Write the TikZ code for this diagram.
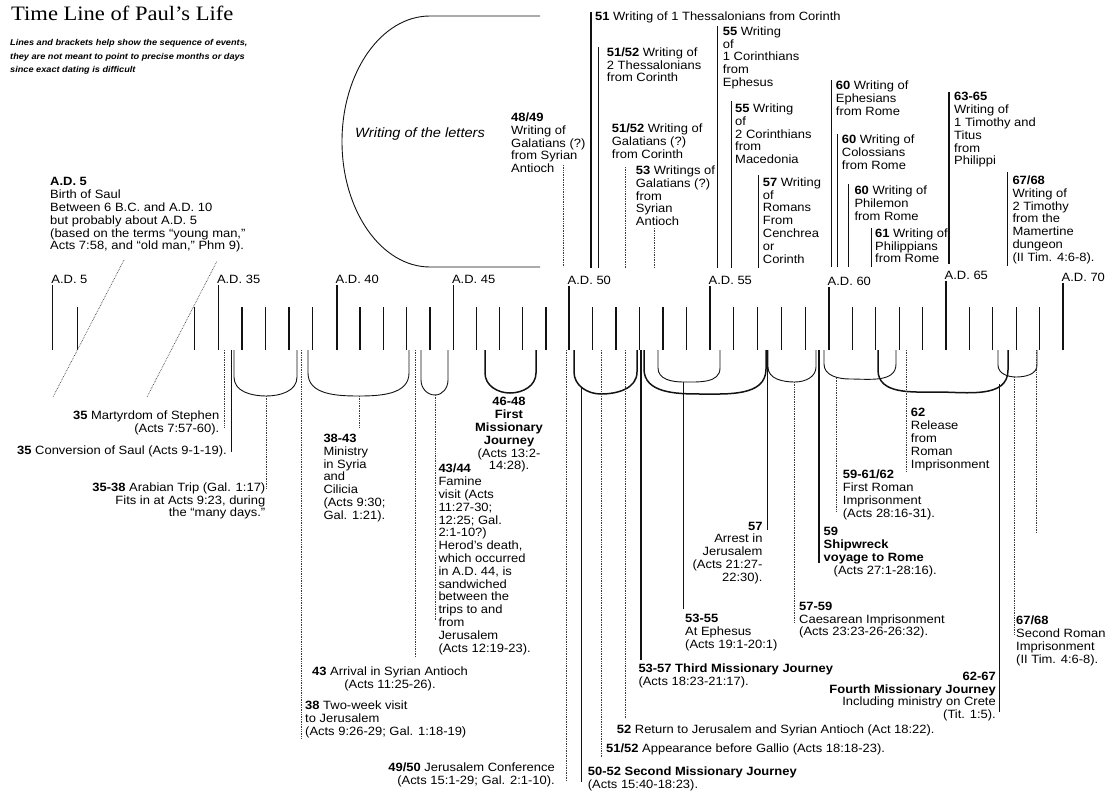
\documentclass[tikz,border=0pt]{standalone}
\usepackage{fontspec}
\setmainfont[FakeStretch=1.08]{Liberation Sans}
\newfontfamily\titlefamily[FakeStretch=1.1]{Liberation Serif}
\usepackage{tikz}
\usepackage{xcolor}
\definecolor{inkBlack}{RGB}{18,18,18}
\definecolor{inkGrey}{RGB}{60,60,60}
\newcommand{\evtfont}{\fontsize{12}{12.8}\selectfont}
\tikzset{
    titletext/.style={
        anchor=base west,
        inner sep=0pt,
        font=\titlefamily\fontsize{20.5}{24}\selectfont
    },
    notetext/.style={
        anchor=north west,
        align=left,
        inner sep=0pt,
        font=\fontsize{8.5}{13.3}\selectfont\bfseries\itshape
    },
    evtleft/.style={
        anchor=north west,
        align=left,
        inner sep=0pt,
        font=\evtfont
    },
    evtright/.style={
        anchor=north east,
        align=right,
        inner sep=0pt,
        font=\evtfont
    },
    evtcenter/.style={
        anchor=north,
        align=center,
        inner sep=0pt,
        font=\evtfont
    },
    yearlabel/.style={anchor=base west, inner sep=0pt, font=\evtfont},
    tickline/.style={draw=inkBlack, line width=1.1pt},
    leadline/.style={draw=inkBlack, line width=0.9pt},
    heavyline/.style={draw=inkBlack, line width=1.5pt},
    faintline/.style={draw=inkGrey, line width=0.7pt, densely dotted},
    bracketline/.style={draw=inkBlack, line width=0.9pt},
    heavybracket/.style={draw=inkBlack, line width=1.5pt}
}

\begin{document}
\begin{tikzpicture}[x=1pt, y=-1pt]
    \useasboundingbox (0,0) rectangle (1120,803);

    \node[titletext] (title) at (11,20.5) {Time Line of Paul’s Life};
    \node[notetext] (note) at (10,39.5) {Lines and brackets help show the sequence of events,\\they are not meant to point to precise months or days\\since exact dating is difficult};

    \node[evtleft] (birth) at (50,177.4) {\textbf{A.D. 5}\\Birth of Saul\\Between 6 B.C. and A.D. 10\\but probably about A.D. 5\\(based on the terms “young man,”\\Acts 7:58, and “old man,” Phm 9).};

    % time line
    \foreach \x in {77.3,194.3,242,265.5,289,312.5,360,383.3,406.7,430,476.5,499.7,522.9,546,592.5,616,639.5,663,686.5,733.8,757.6,781.4,805.2,852.4,875.8,899.2,922.6,969.4,992.8,1016.2,1039.6}
        \draw[tickline] (\x,307) -- (\x,350);
    \foreach \x/\yr/\yb in {52.7/5/283.5,218.3/35/283.5,337/40/283,453.3/45/283,569/50/284.5,710/55/284.5,829/60/285.5,946/65/279.5,1063/70/281.5} {
        \draw[tickline] (\x,\yb+1.5) -- (\x,350);
        \node[yearlabel] (yr\yr) at (\x-1.5,\yb) {A.D. \yr};
    }
    \draw[faintline] (124,260) -- (53,397);
    \draw[faintline] (216.7,261.7) -- (147,397);

    % writing of the letters
    \draw[bracketline] (540,16) -- (430,16) .. controls (381.4,16) and (342,72.2) .. (342,141.5) .. controls (342,210.8) and (381.4,267) .. (430,267) -- (540,267);
    \node[font=\fontsize{13.5}{15}\selectfont\itshape, inner sep=0pt] (letters) at (420,134) {Writing of the letters};

    \node[evtleft] (gal4849) at (511,112.7) {\textbf{48/49}\\Writing of\\Galatians (?)\\from Syrian\\Antioch};
    \node[evtleft] (thes1) at (595,11.7) {\textbf{51} Writing of 1 Thessalonians from Corinth};
    \node[evtleft] (thes2) at (606.7,47.4) {\textbf{51/52} Writing of\\2 Thessalonians\\from Corinth};
    \node[evtleft] (gal5152) at (611.7,123.7) {\textbf{51/52} Writing of\\Galatians (?)\\from Corinth};
    \node[evtleft] (gal53) at (635.7,165.7) {\textbf{53} Writings of\\Galatians (?)\\from\\Syrian\\Antioch};
    \node[evtleft] (cor1) at (722.7,26.4) {\textbf{55} Writing\\of\\1 Corinthians\\from\\Ephesus};
    \node[evtleft] (cor2) at (735,103.7) {\textbf{55} Writing\\of\\2 Corinthians\\from\\Macedonia};
    \node[evtleft] (rom) at (762.7,177.4) {\textbf{57} Writing\\of\\Romans\\From\\Cenchrea\\or\\Corinth};
    \node[evtleft] (eph) at (835.7,80.7) {\textbf{60} Writing of\\Ephesians\\from Rome};
    \node[evtleft] (col) at (841.7,134.7) {\textbf{60} Writing of\\Colossians\\from Rome};
    \node[evtleft] (phm) at (854.3,185.7) {\textbf{60} Writing of\\Philemon\\from Rome};
    \node[evtleft] (php) at (875,228.4) {\textbf{61} Writing of\\Philippians\\from Rome};
    \node[evtleft] (tim1) at (954,92.4) {\textbf{63-65}\\Writing of\\1 Timothy and\\Titus\\from\\Philippi};
    \node[evtleft] (tim2) at (1012.3,175.7) {\textbf{67/68}\\Writing of\\2 Timothy\\from the\\Mamertine\\dungeon\\(II Tim. 4:6-8).};

    \draw[faintline] (563,165) -- (563,267);
    \draw[heavyline] (591,12) -- (591,268);
    \draw[leadline] (598.3,47) -- (598.3,268);
    \draw[faintline] (625,167) -- (625,268);
    \draw[faintline] (654,228) -- (654,268);
    \draw[leadline] (717.7,26) -- (717.7,268);
    \draw[leadline] (731,101) -- (731,268);
    \draw[leadline] (758.3,175) -- (758.3,268);
    \draw[leadline] (831.7,80) -- (831.7,267);
    \draw[leadline] (837.7,134) -- (837.7,267);
    \draw[leadline] (848.3,184) -- (848.3,267);
    \draw[leadline] (871,228) -- (871,267);
    \draw[heavyline] (949,92) -- (949,264);
    \draw[leadline] (1007.7,172) -- (1007.7,266);

    % brackets under the line
    \foreach \xa/\xm/\xb/\yb/\dp in {234/266/297/396/19,308/359/409/396/23,421/435/448/395/15,658/683.3/720/382/14,768/794.8/816/382/15,824/850/896/379/15,998/1016/1037/377/12}
        \draw[bracketline] (\xa,350) -- (\xa,\yb-\dp) to[out=-90,in=180] (\xm,\yb) to[out=0,in=-90] (\xb,\yb-\dp) -- (\xb,350);
    \foreach \xa/\xm/\xb/\yb/\dp in {485/510/536/393/20,574/601/637/394/22,644/700/766/394/25,878/937/1008/392/22}
        \draw[heavybracket] (\xa,350) -- (\xa,\yb-\dp) to[out=-90,in=180] (\xm,\yb) to[out=0,in=-90] (\xb,\yb-\dp) -- (\xb,350);

    \draw[faintline] (224,350) -- (224,427);
    \draw[leadline] (231,350) -- (231,452);
    \draw[faintline] (266,396) -- (266,488);
    \draw[faintline] (301,350) -- (301,738);
    \draw[faintline] (359,396) -- (359,428);
    \draw[faintline] (415,350) -- (415,657);
    \draw[faintline] (435,395) -- (435,621);
    \draw[faintline] (566.7,350) -- (566.7,781);
    \draw[heavyline] (581.5,387) -- (581.5,782);
    \draw[faintline] (601.7,350) -- (601.7,757);
    \draw[faintline] (625,350) -- (625,718);
    \draw[heavyline] (641,350) -- (641,660);
    \draw[leadline] (683.3,382) -- (683.3,609);
    \draw[leadline] (767.5,350) -- (767.5,530);
    \draw[faintline] (794.8,382) -- (794.8,622);
    \draw[heavyline] (819,350) -- (819,563);
    \draw[faintline] (836,378) -- (836,512);
    \draw[faintline] (906,350) -- (906,472);
    \draw[heavyline] (999.5,384) -- (999.5,712);
    \draw[faintline] (1014,377) -- (1014,635);
    \draw[faintline] (1036.7,350) -- (1036.7,532);

    \node[evtright] (stephen) at (219.5,410.7) {\textbf{35} Martyrdom of Stephen\\(Acts 7:57-60).};
    \node[evtright] (convert) at (227,445.7) {\textbf{35} Conversion of Saul (Acts 9-1-19).};
    \node[evtright] (arabia) at (265.5,482.4) {\textbf{35-38} Arabian Trip (Gal. 1:17)\\Fits in at Acts 9:23, during\\the “many days.”};
    \node[evtleft] (visit38) at (305,700.7) {\textbf{38} Two-week visit\\to Jerusalem\\(Acts 9:26-29; Gal. 1:18-19)};
    \node[evtleft] (syria) at (323.3,434) {\textbf{38-43}\\Ministry\\in Syria\\and\\Cilicia\\(Acts 9:30;\\Gal. 1:21).};
    \node[evtcenter] (antioch) at (390,666.4) {\textbf{43} Arrival in Syrian Antioch\\(Acts 11:25-26).};
    \node[evtleft] (famine) at (438.3,464) {\textbf{43/44}\\Famine\\visit (Acts\\11:27-30;\\12:25; Gal.\\2:1-10?)\\Herod’s death,\\which occurred\\in A.D. 44, is\\sandwiched\\between the\\trips to and\\from\\Jerusalem\\(Acts 12:19-23).};
    \node[evtcenter] (journey1) at (509,397.4) {\textbf{46-48}\\\textbf{First}\\\textbf{Missionary}\\\textbf{Journey}\\(Acts 13:2-\\14:28).};
    \node[evtright] (council) at (555,763) {\textbf{49/50} Jerusalem Conference\\(Acts 15:1-29; Gal. 2:1-10).};
    \node[evtleft] (journey2) at (587.7,766.4) {\textbf{50-52 Second Missionary Journey}\\(Acts 15:40-18:23).};
    \node[evtleft] (gallio) at (606,744) {\textbf{51/52} Appearance before Gallio (Acts 18:18-23).};
    \node[evtleft] (return) at (616.7,725) {\textbf{52} Return to Jerusalem and Syrian Antioch (Act 18:22).};
    \node[evtleft] (journey3) at (638.3,664) {\textbf{53-57 Third Missionary Journey}\\(Acts 18:23-21:17).};
    \node[evtleft] (ephesus) at (685,614) {\textbf{53-55}\\At Ephesus\\(Acts 19:1-20:1)};
    \node[evtright] (arrest) at (762.7,521.7) {\textbf{57}\\Arrest in\\Jerusalem\\(Acts 21:27-\\22:30).};
    \node[evtleft] (caesarea) at (799,601.7) {\textbf{57-59}\\Caesarean Imprisonment\\(Acts 23:23-26-26:32).};
    \node[evtleft] (wreck) at (823.5,527.4) {\textbf{59}\\\textbf{Shipwreck}\\\textbf{voyage to Rome}\\\hspace*{10pt}(Acts 27:1-28:16).};
    \node[evtleft] (rome1) at (842.7,470) {\textbf{59-61/62}\\First Roman\\Imprisonment\\(Acts 28:16-31).};
    \node[evtleft] (release) at (910.7,408.4) {\textbf{62}\\Release\\from\\Roman\\Imprisonment};
    \node[evtright] (journey4) at (996,671.7) {\textbf{62-67}\\\textbf{Fourth Missionary Journey}\\Including ministry on Crete\\(Tit. 1:5).};
    \node[evtleft] (rome2) at (1016,615.7) {\textbf{67/68}\\Second Roman\\Imprisonment\\(II Tim. 4:6-8).};
\end{tikzpicture}
\end{document}
